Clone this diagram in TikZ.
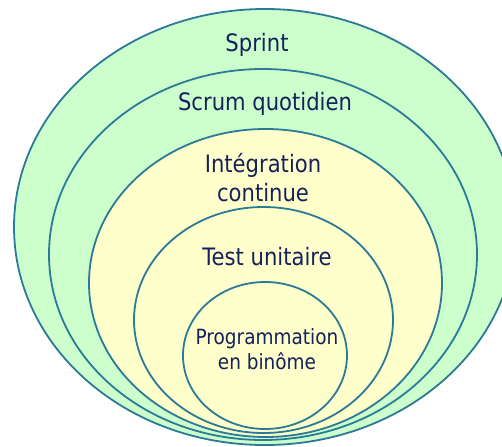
\documentclass[tikz,border=0pt]{standalone}
\usepackage{fontspec}
\setmainfont{DejaVu Sans}[FakeStretch=0.88]
\definecolor{edge}{HTML}{2A7A98}
\definecolor{gfill}{HTML}{CCFFCC}
\definecolor{yfill}{HTML}{FFFFCC}
\definecolor{txt}{HTML}{14215A}
\begin{document}
\begin{tikzpicture}[x=1pt,y=-1pt,
  ring/.style={draw=edge,line width=1.8pt},
  lbl/.style={text=txt,font=\fontsize{24}{29}\selectfont,align=center,inner sep=0pt},
  lbls/.style={text=txt,font=\fontsize{21}{25}\selectfont,align=center,inner sep=0pt}]
\useasboundingbox (0,0) rectangle (502,446);
\clip (0,0) rectangle (502,446);
\path[ring,fill=gfill] (265,227) ellipse [x radius=251,y radius=218];
\path[ring,fill=gfill] (263,254.5) ellipse [x radius=214,y radius=185.5];
\path[ring,fill=yfill] (265.5,283) ellipse [x radius=176.5,y radius=154];
\path[ring,fill=yfill] (263.5,320) ellipse [x radius=129.5,y radius=113];
\path[ring,fill=yfill] (265,355.5) ellipse [x radius=82,y radius=73.5];
\node[lbl] (sprint) at (257,45) {Sprint};
\node[lbl] (scrum) at (265,104) {Scrum quotidien};
\node[lbl] (integ) at (263,178) {Intégration\\continue};
\node[lbl] (test) at (267,257) {Test unitaire};
\node[lbls] (prog) at (267,349) {Programmation\\en binôme};
\end{tikzpicture}
\end{document}
